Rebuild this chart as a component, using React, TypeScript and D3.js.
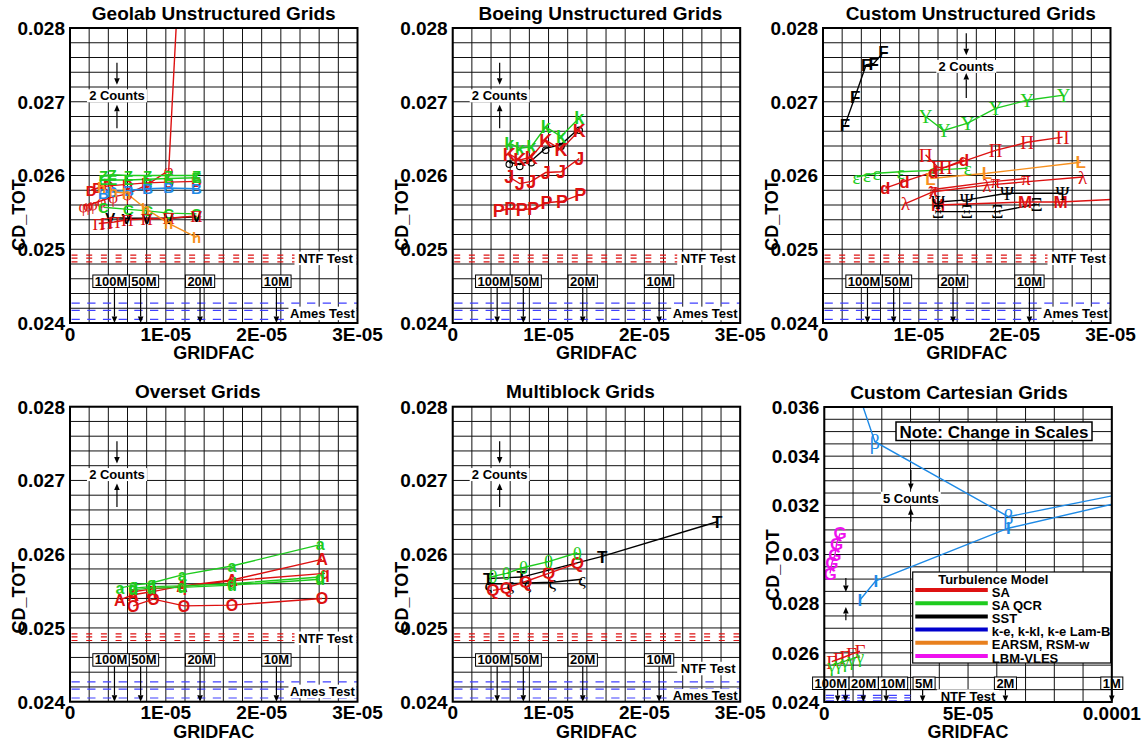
import * as d3 from "d3";
import React from "react";

type Pt = [number, number];

// ---- colours
const RED = "#dd1111";
const GREEN = "#1ecb1e";
const BLACK = "#000000";
const BLUE = "#1e8ae6";
const ORANGE = "#f7901e";
const MAGENTA = "#ee11ee";

// ---- titles / ticks
const panelTitles = [
  "Geolab Unstructured Grids",
  "Boeing Unstructured Grids",
  "Custom Unstructured Grids",
  "Overset Grids",
  "Multiblock Grids",
  "Custom Cartesian Grids",
];
const yTicksStd = [0.024, 0.025, 0.026, 0.027, 0.028];
const yTicksCart = [0.024, 0.026, 0.028, 0.03, 0.032, 0.034, 0.036];
const xTicksStd = [0, 1e-5, 2e-5, 3e-5];
const xTickLabelsStd = ["0", "1E-05", "2E-05", "3E-05"];
const xTicksCart = [0, 5e-5, 1e-4];
const xTickLabelsCart = ["0", "5E-05", "0.0001"];

// ---- test reference bands
const ntfLevels = [0.02492, 0.02488, 0.02483];
const amesLevels = [0.02427, 0.02417, 0.02405];
const refRange = [0, 3e-5];

// ---- grid size markers
const sizeLabels = ["100M", "50M", "20M", "10M", "5M", "2M", "1M"];
const sizeGridfac = [4.64e-6, 7.37e-6, 1.357e-5, 2.154e-5, 3.42e-5, 6.3e-5, 1.0e-4];

// ---- legend
const legendLabels = ["SA", "SA QCR", "SST", "k-e, k-kl, k-e Lam-B", "EARSM, RSM-w", "LBM-VLES"];
const legendColors = [RED, GREEN, BLACK, "#0000cc", "#e8801e", MAGENTA];

// ---- Geolab
const geoZ: Pt[] = [[3.5e-6, 0.026], [4.4e-6, 0.02601], [6.1e-6, 0.026], [8.1e-6, 0.026], [1.03e-5, 0.026], [1.32e-5, 0.026]];
const geoE: Pt[] = [[3.5e-6, 0.02595], [4.4e-6, 0.02594], [6.1e-6, 0.02594], [8.1e-6, 0.02595], [1.03e-5, 0.02596], [1.32e-5, 0.02597]];
const geoD: Pt[] = [[2.2e-6, 0.0258], [2.9e-6, 0.02583], [4.0e-6, 0.02586], [6.0e-6, 0.02588], [8.0e-6, 0.0259], [1.03e-5, 0.02591], [1.32e-5, 0.02592]];
const geoB: Pt[] = [[3.5e-6, 0.02576], [4.4e-6, 0.02578], [6.1e-6, 0.0258], [8.1e-6, 0.02582], [1.03e-5, 0.02583], [1.32e-5, 0.02582]];
const geoC: Pt[] = [[3.5e-6, 0.02557], [6.1e-6, 0.02554], [8.1e-6, 0.02552], [1.03e-5, 0.02549], [1.32e-5, 0.02548]];
const geoV: Pt[] = [[4.2e-6, 0.02543], [5.9e-6, 0.02542], [8.0e-6, 0.02542], [1.03e-5, 0.02542], [1.32e-5, 0.02544]];
const geoPi: Pt[] = [[3.0e-6, 0.02535], [3.8e-6, 0.02536], [4.6e-6, 0.02537], [6.0e-6, 0.0254], [8.0e-6, 0.02541], [1.03e-5, 0.02542], [1.32e-5, 0.02545]];
const geoH: Pt[] = [[3.3e-6, 0.02583], [4.5e-6, 0.02578], [5.9e-6, 0.02576], [7.9e-6, 0.02555], [1.03e-5, 0.02535], [1.32e-5, 0.02516]];
const geoPhi: Pt[] = [[1.4e-6, 0.02559], [1.9e-6, 0.0256], [2.4e-6, 0.02562], [3.3e-6, 0.02566], [4.5e-6, 0.02571], [6.0e-6, 0.02575], [8.0e-6, 0.02587], [1.03e-5, 0.02607], [1.36e-5, 0.0343]];

// ---- Boeing
const boeKg: Pt[] = [[5.9e-6, 0.02644], [7.0e-6, 0.02637], [8.2e-6, 0.02639], [9.7e-6, 0.02666], [1.13e-5, 0.02653], [1.32e-5, 0.02678]];
const boeKr: Pt[] = [[5.9e-6, 0.02629], [7.0e-6, 0.02621], [8.2e-6, 0.02625], [9.7e-6, 0.02648], [1.13e-5, 0.02635], [1.32e-5, 0.02661]];
const boeO: Pt[] = [[5.9e-6, 0.02618], [7.0e-6, 0.02615], [8.2e-6, 0.0262], [9.7e-6, 0.02637], [1.13e-5, 0.02642], [1.32e-5, 0.02664]];
const boeJ: Pt[] = [[5.9e-6, 0.02598], [7.0e-6, 0.02589], [8.2e-6, 0.02592], [9.7e-6, 0.02604], [1.13e-5, 0.02605], [1.32e-5, 0.02623]];
const boeP: Pt[] = [[4.8e-6, 0.02552], [6.0e-6, 0.02555], [7.2e-6, 0.02554], [8.4e-6, 0.02555], [9.8e-6, 0.02563], [1.14e-5, 0.02565], [1.33e-5, 0.02574]];

// ---- Custom unstructured
const cusF: Pt[] = [[2.3e-6, 0.02669], [3.35e-6, 0.02707], [4.5e-6, 0.0275], [5.3e-6, 0.02752], [6.3e-6, 0.02767]];
const cusY: Pt[] = [[1.07e-5, 0.0268], [1.26e-5, 0.02661], [1.51e-5, 0.02671], [1.8e-5, 0.02691], [2.13e-5, 0.02702], [2.51e-5, 0.02709]];
const cusPi: Pt[] = [[1.07e-5, 0.02628], [1.2e-5, 0.02611], [1.28e-5, 0.02611], [1.8e-5, 0.02634], [2.13e-5, 0.02645], [2.5e-5, 0.02652]];
const cusD: Pt[] = [[6.5e-6, 0.02583], [8.5e-6, 0.02592], [1.15e-5, 0.02605], [1.47e-5, 0.02621]];
const cusEps: Pt[] = [[3.5e-6, 0.02598], [4.6e-6, 0.02601], [5.6e-6, 0.02603], [8.1e-6, 0.02605], [1.15e-5, 0.02607], [1.51e-5, 0.0261]];
const cusL: Pt[] = [[1.12e-5, 0.02596], [1.71e-5, 0.02603], [2.69e-5, 0.02618]];
const cusLam: Pt[] = [[8.6e-6, 0.02562], [1.15e-5, 0.02578], [1.71e-5, 0.02587], [2.71e-5, 0.02598]];
const cusPiS: Pt[] = [[1.15e-5, 0.02581], [1.8e-5, 0.02592], [2.12e-5, 0.02596]];
const cusM: Pt[] = [[1.2e-5, 0.0256], [2.11e-5, 0.02564], [2.48e-5, 0.02564], [3.1e-5, 0.02568]];
const cusPsi: Pt[] = [[1.2e-5, 0.02564], [1.5e-5, 0.02567], [1.92e-5, 0.02576], [2.5e-5, 0.02576]];
const cusXi: Pt[] = [[1.2e-5, 0.02551], [1.5e-5, 0.02551], [1.82e-5, 0.02551], [2.23e-5, 0.02561]];

// ---- Overset
const ovAg: Pt[] = [[5.2e-6, 0.02554], [6.6e-6, 0.02558], [8.5e-6, 0.02561], [1.17e-5, 0.02572], [1.69e-5, 0.02584], [2.61e-5, 0.02613]];
const ovAr: Pt[] = [[5.2e-6, 0.02538], [6.6e-6, 0.02545], [8.5e-6, 0.02549], [1.17e-5, 0.02557], [1.69e-5, 0.02565], [2.63e-5, 0.02593]];
const ovO: Pt[] = [[6.6e-6, 0.0253], [8.7e-6, 0.02539], [1.19e-5, 0.0253], [1.69e-5, 0.02531], [2.63e-5, 0.0254]];
const ovQ: Pt[] = [[6.6e-6, 0.02549], [8.6e-6, 0.02553], [1.17e-5, 0.02556], [1.69e-5, 0.02564], [2.66e-5, 0.02574]];
const ovU: Pt[] = [[6.6e-6, 0.02552], [8.5e-6, 0.02554], [1.17e-5, 0.02555], [1.69e-5, 0.02558], [2.61e-5, 0.02566]];
const ovDg: Pt[] = [[6.6e-6, 0.02554], [8.5e-6, 0.02556], [1.17e-5, 0.02557], [1.69e-5, 0.0256], [2.61e-5, 0.02569]];

// ---- Multiblock
const mbTheta: Pt[] = [[4.2e-6, 0.0257], [5.6e-6, 0.02574], [7.4e-6, 0.02582], [1.0e-5, 0.0259], [1.3e-5, 0.02602]];
const mbQ: Pt[] = [[4.2e-6, 0.02551], [5.6e-6, 0.02554], [7.6e-6, 0.02563], [1.0e-5, 0.02574], [1.3e-5, 0.02588]];
const mbT: Pt[] = [[3.7e-6, 0.02567], [7.2e-6, 0.02569], [1.56e-5, 0.02597], [2.76e-5, 0.02644]];
const mbS: Pt[] = [[3.7e-6, 0.0256], [6.0e-6, 0.0256], [7.8e-6, 0.02561], [1.04e-5, 0.02562], [1.35e-5, 0.02566]];

// ---- Custom Cartesian
const ccBeta: Pt[] = [[1.0e-5, 0.0372], [1.76e-5, 0.03459], [6.4e-5, 0.03154], [1.2e-4, 0.03285]];
const ccI: Pt[] = [[1.24e-5, 0.02815], [1.79e-5, 0.02893], [6.4e-5, 0.03107], [1.2e-4, 0.03258]];
const ccG: Pt[] = [[2.0e-6, 0.02923], [2.6e-6, 0.02964], [3.7e-6, 0.02998], [4.3e-6, 0.03045], [5.5e-6, 0.03086]];
const ccGam: Pt[] = [[2.6e-6, 0.02564], [4.9e-6, 0.02574], [7.2e-6, 0.02584], [9.5e-6, 0.02595], [1.24e-5, 0.02607]];
const ccGamG: Pt[] = [[2.6e-6, 0.0255], [4.9e-6, 0.02557], [7.2e-6, 0.02566], [9.5e-6, 0.02575], [1.24e-5, 0.02588]];

interface Series { pts: Pt[]; color: string; mark: string; serif?: boolean; size?: number }
interface Counts { x: number; downTail: number; downTip: number; upTip: number; upTail: number; textY?: number; label?: string }
interface PanelCfg {
  title: string; titleDx: number; left: number; top: number;
  xMax: number; yMin: number; yMax: number; xStep: number; yStep: number;
  xTicks: number[]; xLabels: string[]; yTicks: number[]; ylabDy: number;
  markSize: number;
  series: Series[]; counts: Counts[];
  sizeBoxes: number[]; sizeArrows: number[]; boxOffset: number;
  ntfLabel: { x?: number; y: number }; amesLabel?: number;
  cartesian?: boolean;
}

const W = 287.5, H = 295;
const FONT = "'Liberation Sans', Arial, Helvetica, sans-serif";
const SERIF = "'Liberation Serif', 'DejaVu Serif', serif";

const counts2Std: Counts = { x: 4.9e-6, downTail: 0.02753, downTip: 0.02723, textY: 0.02708, upTip: 0.02696, upTail: 0.02664, label: "2 Counts" };
const counts2Cus: Counts = { x: 1.495e-5, downTail: 0.02793, downTip: 0.02763, textY: 0.02748, upTip: 0.02739, upTail: 0.02705, label: "2 Counts" };
const counts5: Counts = { x: 3.01e-5, downTail: 0.03344, downTip: 0.03262, textY: 0.03229, upTip: 0.03188, upTail: 0.03133, label: "5 Counts" };
const counts2Cart: Counts = { x: 7.5e-6, downTail: 0.02904, downTip: 0.02847, upTip: 0.02786, upTail: 0.02733 };

const stdAxes = {
  xMax: 3e-5, yMin: 0.024, yMax: 0.028, xStep: 2e-6, yStep: 0.0002,
  xTicks: xTicksStd, xLabels: xTickLabelsStd, yTicks: yTicksStd,
  sizeBoxes: [0, 1, 2, 3], sizeArrows: [0, 1, 2, 3], boxOffset: 48,
};

const panels: PanelCfg[] = [
  {
    ...stdAxes, title: panelTitles[0], titleDx: 0, left: 70, top: 28, ylabDy: 187, markSize: 15,
    counts: [counts2Std], ntfLabel: { y: 0.024877 }, amesLabel: 0.02413,
    series: [
      { pts: geoD, color: RED, mark: "D" },
      { pts: geoPhi, color: RED, mark: "φ", serif: true },
      { pts: geoE, color: GREEN, mark: "E" },
      { pts: geoZ, color: GREEN, mark: "Z" },
      { pts: geoB, color: BLUE, mark: "B" },
      { pts: geoC, color: GREEN, mark: "C" },
      { pts: geoV, color: BLACK, mark: "V" },
      { pts: geoPi, color: RED, mark: "Π", serif: true },
      { pts: geoH, color: ORANGE, mark: "h" },
    ],
  },
  {
    ...stdAxes, title: panelTitles[1], titleDx: 4, left: 452.7, top: 28, ylabDy: 187, markSize: 18,
    counts: [counts2Std], ntfLabel: { y: 0.024877 }, amesLabel: 0.02413,
    series: [
      { pts: boeO, color: BLACK, mark: "o" },
      { pts: boeKg, color: GREEN, mark: "k" },
      { pts: boeKr, color: RED, mark: "K" },
      { pts: boeJ, color: RED, mark: "J" },
      { pts: boeP, color: RED, mark: "P" },
    ],
  },
  {
    ...stdAxes, title: panelTitles[2], titleDx: 4, left: 823, top: 28, ylabDy: 187, markSize: 17,
    counts: [counts2Cus], ntfLabel: { y: 0.024877 }, amesLabel: 0.02413,
    series: [
      { pts: cusF, color: BLACK, mark: "F" },
      { pts: cusY, color: GREEN, mark: "Υ", serif: true },
      { pts: cusEps, color: GREEN, mark: "ε", serif: true },
      { pts: cusPi, color: RED, mark: "Π", serif: true },
      { pts: cusD, color: RED, mark: "d" },
      { pts: cusL, color: ORANGE, mark: "L" },
      { pts: cusLam, color: RED, mark: "λ", serif: true },
      { pts: cusPiS, color: RED, mark: "π", serif: true },
      { pts: cusM, color: RED, mark: "M" },
      { pts: cusPsi, color: BLACK, mark: "Ψ", serif: true },
      { pts: cusXi, color: BLACK, mark: "Ξ", serif: true },
    ],
  },
  {
    ...stdAxes, title: panelTitles[3], titleDx: -16, left: 70, top: 406.7, ylabDy: 191, markSize: 16,
    counts: [counts2Std], ntfLabel: { y: 0.02486 }, amesLabel: 0.02414,
    series: [
      { pts: ovO, color: RED, mark: "O" },
      { pts: ovQ, color: RED, mark: "q" },
      { pts: ovAr, color: RED, mark: "A" },
      { pts: ovU, color: GREEN, mark: "u" },
      { pts: ovDg, color: GREEN, mark: "d" },
      { pts: ovAg, color: GREEN, mark: "a" },
    ],
  },
  {
    ...stdAxes, title: panelTitles[4], titleDx: -16, left: 452.7, top: 406.7, ylabDy: 191, markSize: 17,
    counts: [counts2Std], ntfLabel: { y: 0.02445 }, amesLabel: 0.02408,
    series: [
      { pts: mbS, color: BLACK, mark: "ς", serif: true },
      { pts: mbT, color: BLACK, mark: "T" },
      { pts: mbQ, color: RED, mark: "Q" },
      { pts: mbTheta, color: GREEN, mark: "θ", serif: true },
    ],
  },
  {
    title: panelTitles[5], titleDx: -9, left: 824.3, top: 407, ylabDy: 158, markSize: 17,
    xMax: 1e-4, yMin: 0.024, yMax: 0.036, xStep: 1e-5, yStep: 0.0005,
    xTicks: xTicksCart, xLabels: xTickLabelsCart, yTicks: yTicksCart,
    sizeBoxes: [0, 2, 3, 4, 5, 6], sizeArrows: [0, 1, 2, 3, 4, 5, 6], boxOffset: 25,
    counts: [counts5, counts2Cart], ntfLabel: { x: 5.0e-5, y: 0.02424 },
    cartesian: true,
    series: [
      { pts: ccBeta, color: BLUE, mark: "β", serif: true, size: 20 },
      { pts: ccI, color: BLUE, mark: "I" },
      { pts: ccG, color: MAGENTA, mark: "G" },
      { pts: ccGam, color: RED, mark: "Γ", serif: true },
      { pts: ccGamG, color: GREEN, mark: "γ", serif: true },
    ],
  },
];

const boldW: Record<string, number> = { "0": 0.556, "1": 0.556, "2": 0.556, "5": 0.556, M: 0.833 };
const labelWidth = (s: string, size: number) => d3.sum(s.split(""), (c) => boldW[c] ?? 0.6) * size;

// spread overlapping label boxes: average of a left-push and a right-push pass
function packBoxes(xs: number[], ws: number[]) {
  const n = xs.length;
  const lp = xs.slice();
  for (let i = n - 2; i >= 0; i--) lp[i] = Math.min(xs[i], lp[i + 1] - ws[i + 1] / 2 - ws[i] / 2);
  const rp = xs.slice();
  for (let i = 1; i < n; i++) rp[i] = Math.max(xs[i], rp[i - 1] + ws[i - 1] / 2 + ws[i] / 2);
  return xs.map((_, i) => (lp[i] + rp[i]) / 2);
}

function Arrow({ x, y1, y2 }: { x: number; y1: number; y2: number }) {
  const dir = Math.sign(y2 - y1);
  const h = 6.5, w = 2.8;
  return (
    <g>
      <line x1={x} x2={x} y1={y1} y2={y2 - dir * h} stroke="#000" strokeWidth={1.2} />
      <path d={`M${x},${y2} L${x - w},${y2 - dir * h} L${x + w},${y2 - dir * h} Z`} fill="#000" />
    </g>
  );
}

function Panel({ cfg, idx }: { cfg: PanelCfg; idx: number }) {
  const { left, top } = cfg;
  const right = left + W, bottom = top + H;
  const x = d3.scaleLinear().domain([0, cfg.xMax]).range([left, right]);
  const y = d3.scaleLinear().domain([cfg.yMin, cfg.yMax]).range([bottom, top]);
  const xGrid = d3.range(0, cfg.xMax + cfg.xStep / 2, cfg.xStep);
  const yGrid = d3.range(cfg.yMin, cfg.yMax + cfg.yStep / 2, cfg.yStep);
  const line = d3.line<Pt>().x((d) => x(d[0])).y((d) => y(d[1]));
  const clip = `clip-${idx}`;
  const inside = (p: Pt) => p[0] >= 0 && p[0] <= cfg.xMax && p[1] >= cfg.yMin && p[1] <= cfg.yMax;

  const boxTop = bottom - cfg.boxOffset;
  const boxH = 12.5;
  const bx = cfg.sizeBoxes.map((i) => x(sizeGridfac[i]));
  const bw = cfg.sizeBoxes.map((i) => labelWidth(sizeLabels[i], 13) + 4);
  const bcx = packBoxes(bx, bw);

  const fmtY = (v: number) => String(+v.toFixed(3));

  const ntfW = 62, amesW = 68, lblH = 13.5;
  const ntfCx = cfg.ntfLabel.x !== undefined ? x(cfg.ntfLabel.x) : right - 1 - ntfW / 2;

  return (
    <g>
      <clipPath id={clip}>
        <rect x={left} y={top} width={W} height={H} />
      </clipPath>
      {/* grid */}
      <g stroke="#111" strokeWidth={1}>
        {xGrid.map((g, i) => (
          <line key={"gx" + i} x1={x(g)} x2={x(g)} y1={top} y2={bottom} />
        ))}
        {yGrid.map((g, i) => (
          <line key={"gy" + i} x1={left} x2={right} y1={y(g)} y2={y(g)} />
        ))}
      </g>
      <g clipPath={`url(#${clip})`}>
        {/* reference bands */}
        {ntfLevels.map((v, i) => (
          <line key={"n" + i} x1={x(refRange[0])} x2={x(refRange[1])} y1={y(v)} y2={y(v)}
            stroke={RED} strokeWidth={1.2} strokeDasharray="6,8.7" strokeDashoffset={-1.5} />
        ))}
        {amesLevels.map((v, i) => (
          <line key={"a" + i} x1={x(refRange[0])} x2={x(refRange[1])} y1={y(v)} y2={y(v)}
            stroke="#4040ff" strokeWidth={1.2} strokeDasharray="8.3,7.4" strokeDashoffset={-1.5} />
        ))}
        {/* series */}
        {cfg.series.map((s, i) => (
          <path key={"l" + i} d={line(s.pts) || ""} fill="none" stroke={s.color} strokeWidth={1.4} />
        ))}
        {cfg.series.map((s, i) =>
          s.pts.filter(inside).map((p, j) =>
            s.mark === "o" ? (
              <circle key={`m${i}-${j}`} cx={x(p[0])} cy={y(p[1]) + 2} r={3.2} fill="none" stroke={s.color} strokeWidth={1.2} />
            ) : (
              <text key={`m${i}-${j}`} x={x(p[0])} y={y(p[1])} dy="0.36em" textAnchor="middle"
                fill={s.color} fontFamily={s.serif ? SERIF : FONT} fontWeight={s.serif ? "normal" : "bold"}
                fontSize={s.size ?? (s.serif ? cfg.markSize + 2 : cfg.markSize)}>
                {s.mark}
              </text>
            )
          )
        )}
      </g>

      {/* reference labels */}
      <rect x={ntfCx - ntfW / 2} y={y(cfg.ntfLabel.y) - lblH / 2} width={ntfW} height={lblH} fill="#fff" />
      <text x={ntfCx} y={y(cfg.ntfLabel.y) + 4.6} textAnchor="middle" fontFamily={FONT} fontWeight="bold" fontSize={13}>
        NTF Test
      </text>
      {cfg.amesLabel !== undefined && (
        <g>
          <rect x={right - 1 - amesW} y={y(cfg.amesLabel) - lblH / 2} width={amesW} height={lblH} fill="#fff" />
          <text x={right - 1 - amesW / 2} y={y(cfg.amesLabel) + 4.6} textAnchor="middle" fontFamily={FONT} fontWeight="bold" fontSize={13}>
            Ames Test
          </text>
        </g>
      )}

      {/* grid size arrows and boxes */}
      {cfg.sizeArrows.map((i) => (
        <Arrow key={"sa" + i} x={x(sizeGridfac[i])} y1={boxTop + boxH} y2={bottom} />
      ))}
      {cfg.sizeBoxes.map((i, k) => (
        <g key={"sb" + i}>
          <rect x={bcx[k] - bw[k] / 2} y={boxTop} width={bw[k]} height={boxH} fill="#fff" stroke="#000" strokeWidth={1} />
          <text x={bcx[k]} y={boxTop + boxH - 1.8} textAnchor="middle" fontFamily={FONT} fontWeight="bold" fontSize={13}>
            {sizeLabels[i]}
          </text>
        </g>
      ))}

      {/* count scale arrows */}
      {cfg.counts.map((c, i) => (
        <g key={"c" + i}>
          <Arrow x={x(c.x)} y1={y(c.downTail)} y2={y(c.downTip)} />
          <Arrow x={x(c.x)} y1={y(c.upTail)} y2={y(c.upTip)} />
          {c.label && c.textY !== undefined && (
            <g>
              <rect x={x(c.x) - 30} y={y(c.textY) - 6.5} width={60} height={13} fill="#fff" />
              <text x={x(c.x)} y={y(c.textY) + 4.5} textAnchor="middle" fontFamily={FONT} fontWeight="bold" fontSize={13}>
                {c.label}
              </text>
            </g>
          )}
        </g>
      ))}

      {cfg.cartesian && (
        <g>
          <rect x={left + 71.7} y={top + 15} width={196} height={18.5} fill="#fff" stroke="#000" strokeWidth={1.5} />
          <text x={left + 169.7} y={top + 30.5} textAnchor="middle" fontFamily={FONT} fontWeight="bold" fontSize={17}>
            Note: Change in Scales
          </text>
          <rect x={left + 88.4} y={top + 165} width={198} height={91} fill="#fff" stroke="#000" strokeWidth={1.2} />
          <text x={left + 169} y={top + 176.5} textAnchor="middle" fontFamily={FONT} fontWeight="bold" fontSize={13}>
            Turbulence Model
          </text>
          {legendLabels.map((lab, i) => {
            const ly = top + 183 + i * 13.2;
            return (
              <g key={"lg" + i}>
                <line x1={left + 91} x2={left + 163.5} y1={ly} y2={ly} stroke={legendColors[i]} strokeWidth={4} />
                <text x={left + 167.5} y={ly + 6.5} fontFamily={FONT} fontWeight="bold" fontSize={13}>
                  {lab}
                </text>
              </g>
            );
          })}
        </g>
      )}

      {/* frame */}
      <rect x={left} y={top} width={W} height={H} fill="none" stroke="#000" strokeWidth={2} />

      {/* axes text */}
      {cfg.yTicks.map((t, i) => (
        <text key={"yt" + i} x={left - 5} y={y(t) + 6.8} textAnchor="end" fontFamily={FONT} fontWeight="bold" fontSize={19}>
          {fmtY(t)}
        </text>
      ))}
      {cfg.xTicks.map((t, i) => (
        <text key={"xt" + i} x={x(t)} y={bottom + 17.5} textAnchor="middle" fontFamily={FONT} fontWeight="bold" fontSize={19}>
          {cfg.xLabels[i]}
        </text>
      ))}
      <text x={(left + right) / 2 + cfg.titleDx} y={top - 8.5} textAnchor="middle" fontFamily={FONT} fontWeight="bold" fontSize={19}>
        {cfg.title}
      </text>
      <text x={(left + right) / 2} y={bottom + 36} textAnchor="middle" fontFamily={FONT} fontWeight="bold" fontSize={18}>
        GRIDFAC
      </text>
      <text transform={`translate(${left - 45},${top + cfg.ylabDy}) rotate(-90)`} textAnchor="middle"
        fontFamily={FONT} fontWeight="bold" fontSize={18}>
        CD_TOT
      </text>
    </g>
  );
}

export default function App() {
  return (
    <svg width={1146} height={744} style={{ position: "absolute", left: 0, top: 0, background: "#fff" }}>
      <rect width={1146} height={744} fill="#fff" />
      {panels.map((p, i) => (
        <Panel key={i} cfg={p} idx={i} />
      ))}
    </svg>
  );
}
